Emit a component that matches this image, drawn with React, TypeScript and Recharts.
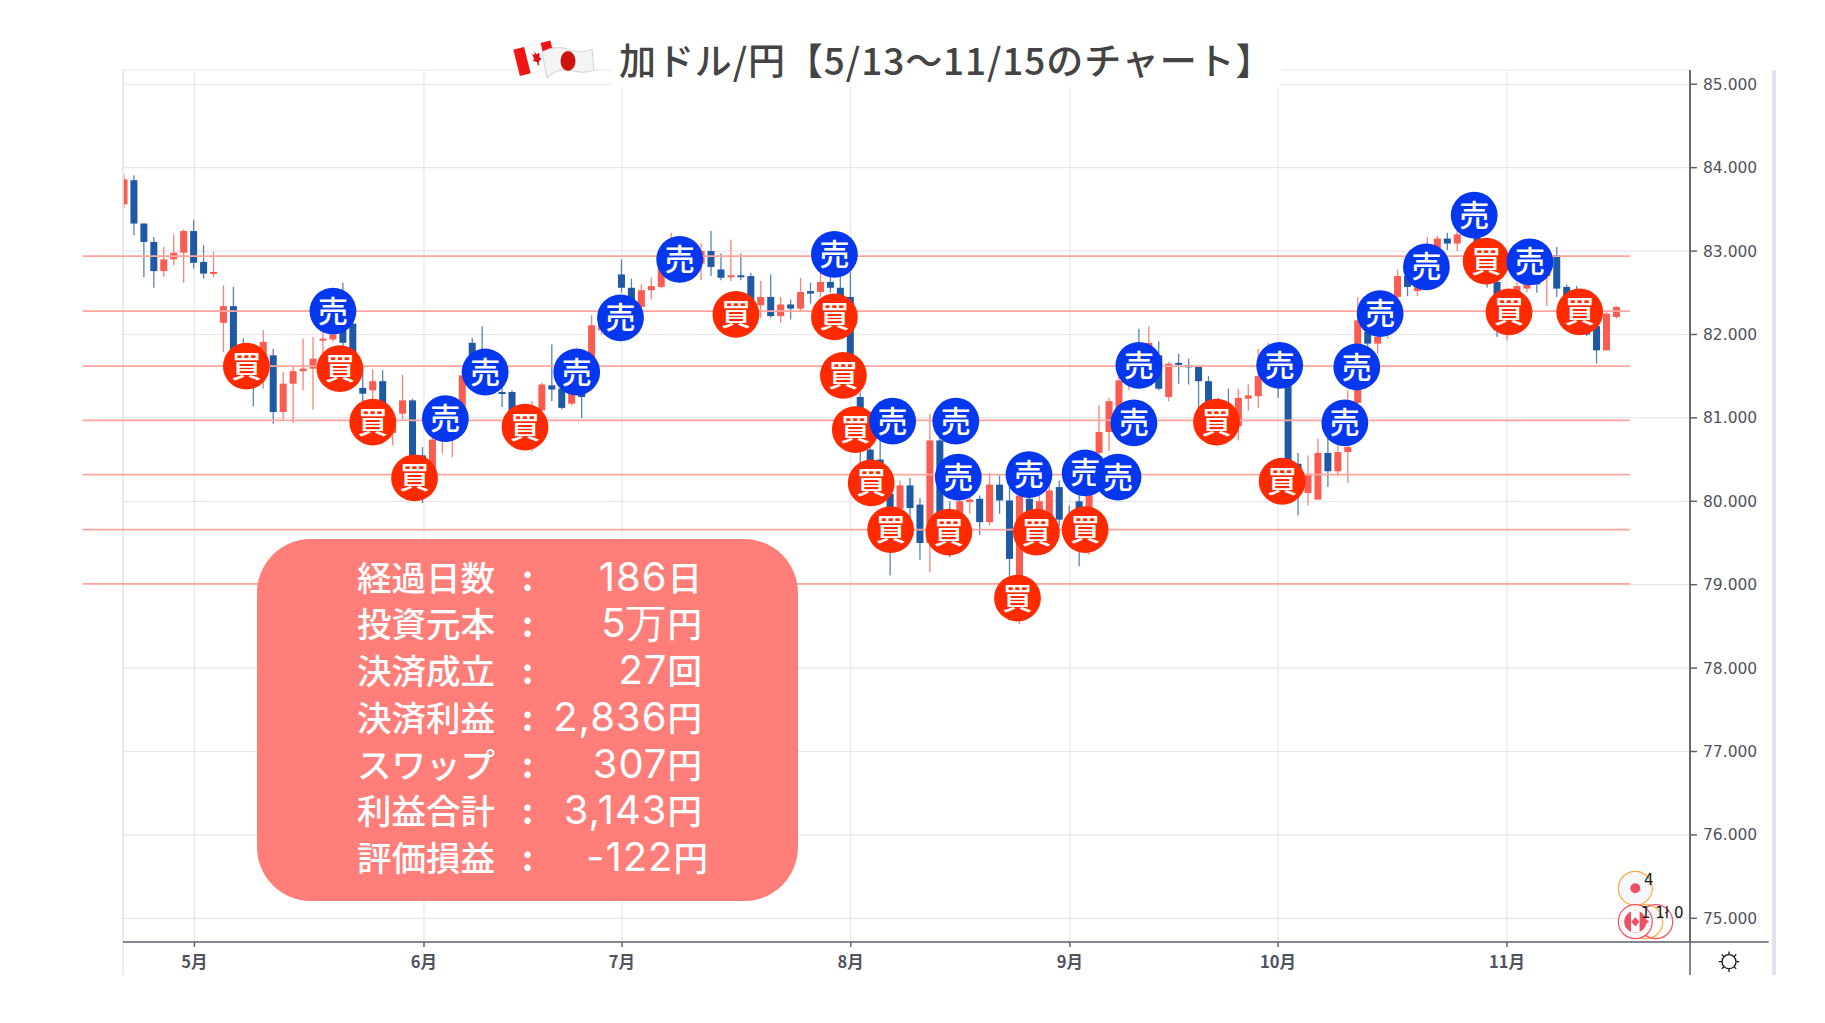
import { Bar, CartesianGrid, ComposedChart, ReferenceLine, Scatter, XAxis, YAxis } from "recharts";

const opens = [
  83.56, 83.85, 83.33, 83.11, 82.76, 82.90, 82.98, 83.24, 82.87, 82.73,
  82.14, 82.34, 81.77, 81.60, 81.61, 81.75, 81.07, 81.41, 81.56, 81.59,
  81.93, 81.94, 82.05, 82.13, 81.36, 81.33, 81.44, 80.82, 81.05, 81.21,
  80.55, 80.34, 80.80, 80.81, 81.13, 81.90, 81.75, 81.45, 81.31, 81.31,
  80.95, 80.85, 81.09, 81.39, 81.35, 81.17, 81.40, 81.65, 82.05, 82.30,
  82.72, 82.56, 82.33, 82.53, 82.57, 82.85, 83.10, 82.95, 82.85, 83.00,
  82.78, 82.69, 82.71, 82.70, 82.35, 82.45, 82.22, 82.36, 82.31, 82.52,
  82.51, 82.63, 82.56, 82.45, 81.25, 80.62, 80.50, 80.09, 79.91, 80.19,
  79.96, 79.50, 80.73, 79.85, 79.80, 79.99, 80.03, 79.75, 80.20, 80.01,
  79.10, 80.03, 79.80, 79.77, 80.17, 79.80, 80.00, 79.75, 80.58, 80.83,
  81.10, 81.50, 81.85, 81.70, 81.75, 81.25, 81.66, 81.63, 81.62, 81.44,
  81.20, 81.10, 80.90, 81.23, 81.26, 81.50, 81.65, 81.70, 80.45, 80.10,
  80.02, 80.58, 80.36, 80.59, 81.18, 82.03, 81.89, 82.00, 82.45, 82.70,
  82.52, 82.60, 82.85, 83.15, 83.09, 83.20, 83.30, 82.95, 82.63, 82.05,
  82.30, 82.55, 82.80, 82.70, 82.95, 82.57, 82.30, 82.20, 82.10, 81.81,
  82.21,
];
const highs = [
  83.92, 83.91, 83.33, 83.17, 83.05, 83.20, 83.26, 83.37, 83.07, 82.99,
  82.59, 82.57, 81.95, 81.70, 82.05, 81.83, 81.55, 81.61, 81.95, 81.97,
  82.03, 82.10, 82.62, 82.20, 81.60, 81.58, 81.57, 81.07, 81.52, 81.23,
  80.65, 80.90, 81.00, 81.10, 81.60, 81.96, 82.10, 81.50, 81.40, 81.33,
  81.05, 81.20, 81.42, 81.88, 81.50, 81.55, 81.65, 82.23, 82.35, 82.45,
  82.90, 82.67, 82.60, 82.68, 82.95, 83.22, 83.15, 83.10, 83.09, 83.24,
  82.97, 83.14, 82.97, 82.74, 82.64, 82.72, 82.45, 82.42, 82.68, 82.62,
  82.75, 82.70, 82.70, 82.75, 81.30, 80.75, 80.73, 80.20, 80.25, 80.28,
  80.04, 81.05, 80.95, 80.00, 80.20, 80.10, 80.07, 80.34, 80.31, 80.17,
  80.10, 80.20, 80.10, 80.20, 80.25, 79.95, 80.10, 80.40, 81.15, 81.24,
  81.50, 81.75, 82.07, 82.10, 81.92, 81.67, 81.77, 81.71, 81.63, 81.50,
  81.24, 81.35, 81.35, 81.40, 81.83, 81.90, 81.80, 81.80, 80.58, 80.55,
  80.75, 80.80, 80.70, 81.33, 82.45, 82.10, 82.00, 82.35, 82.78, 82.75,
  82.65, 83.17, 83.18, 83.22, 83.30, 83.45, 83.35, 83.00, 82.80, 82.35,
  82.63, 82.63, 82.90, 83.05, 83.05, 82.60, 82.58, 82.30, 82.20, 82.27,
  82.34,
];
const lows = [
  83.52, 83.19, 82.69, 82.56, 82.69, 82.83, 82.62, 82.79, 82.67, 82.69,
  81.79, 81.70, 81.45, 81.14, 81.35, 80.93, 80.98, 80.94, 81.33, 81.10,
  81.67, 81.92, 81.85, 81.60, 81.17, 81.20, 81.00, 80.67, 80.98, 80.45,
  79.98, 80.30, 80.57, 80.53, 81.10, 81.60, 81.40, 81.30, 81.13, 80.93,
  80.80, 80.60, 81.00, 81.20, 81.10, 81.15, 81.00, 81.50, 82.00, 82.25,
  82.50, 82.35, 82.30, 82.42, 82.55, 82.80, 82.85, 82.85, 82.65, 82.70,
  82.65, 82.64, 82.65, 82.20, 82.20, 82.20, 82.14, 82.18, 82.27, 82.37,
  82.45, 82.50, 82.35, 81.45, 80.45, 80.40, 80.10, 79.11, 79.60, 79.77,
  79.30, 79.15, 79.60, 79.33, 79.70, 79.85, 79.60, 79.71, 79.85, 79.10,
  78.53, 79.70, 79.65, 79.70, 79.70, 79.60, 79.22, 79.36, 80.30, 80.60,
  81.00, 81.33, 81.55, 81.60, 81.33, 81.20, 81.41, 81.40, 81.12, 81.05,
  80.75, 80.75, 80.73, 81.09, 81.12, 81.40, 81.24, 80.30, 79.83, 79.95,
  80.02, 80.17, 80.30, 80.22, 81.10, 81.80, 81.77, 81.95, 82.40, 82.46,
  82.46, 82.55, 82.80, 83.01, 83.00, 83.17, 82.90, 82.56, 81.97, 81.93,
  82.25, 82.51, 82.50, 82.34, 82.45, 82.10, 82.00, 81.98, 81.65, 81.81,
  82.19,
];
const closes = [
  83.86, 83.33, 83.11, 82.76, 82.90, 82.98, 83.24, 82.86, 82.73, 82.75,
  82.34, 81.75, 81.55, 81.37, 81.91, 81.07, 81.41, 81.56, 81.59, 81.71,
  81.95, 82.00, 81.90, 81.65, 81.29, 81.44, 81.10, 81.00, 81.21, 80.52,
  80.30, 80.74, 80.90, 80.93, 81.51, 81.70, 81.45, 81.35, 81.30, 81.00,
  81.00, 81.13, 81.40, 81.34, 81.12, 81.29, 81.25, 82.11, 82.30, 82.40,
  82.56, 82.40, 82.53, 82.58, 82.83, 83.10, 82.95, 83.00, 83.00, 82.81,
  82.68, 82.71, 82.69, 82.25, 82.45, 82.22, 82.36, 82.31, 82.51, 82.49,
  82.63, 82.56, 82.40, 81.50, 80.70, 80.47, 80.20, 79.60, 80.19, 79.92,
  79.50, 80.73, 79.85, 79.60, 80.00, 80.02, 79.75, 80.20, 80.01, 79.31,
  80.07, 79.80, 80.00, 80.13, 79.78, 79.70, 79.50, 80.35, 80.83, 81.20,
  81.45, 81.70, 81.60, 81.90, 81.35, 81.65, 81.64, 81.61, 81.44, 81.10,
  80.90, 80.90, 81.24, 81.27, 81.50, 81.60, 81.40, 80.45, 80.30, 80.33,
  80.58, 80.36, 80.59, 80.65, 82.17, 81.89, 81.97, 82.30, 82.70, 82.57,
  82.59, 82.85, 83.15, 83.09, 83.20, 83.30, 82.95, 82.65, 82.05, 82.30,
  82.58, 82.60, 82.60, 83.00, 82.55, 82.20, 82.10, 82.00, 81.81, 82.25,
  82.33,
];

const buyDays = [12.3, 21.7, 25.0, 29.2, 40.3, 61.5, 71.4, 72.3, 73.5, 75.1, 77.05, 82.9, 91.7, 89.8, 96.6, 109.8, 116.4, 136.9, 139.2, 146.3];
const buyRates = [81.62, 81.59, 80.95, 80.28, 80.89, 82.24, 82.21, 81.51, 80.86, 80.22, 79.66, 79.63, 79.63, 78.84, 79.66, 80.95, 80.24, 82.88, 82.27, 82.27];
const sellDays = [21.0, 32.3, 36.3, 45.5, 49.9, 55.85, 71.4, 77.25, 83.6, 83.85, 90.95, 96.6, 99.9, 101.5, 102.0, 116.15, 122.7, 123.9, 126.25, 130.9, 135.7, 141.3];
const sellRates = [82.28, 80.99, 81.55, 81.55, 82.2, 82.9, 82.96, 80.96, 80.96, 80.29, 80.32, 80.34, 80.29, 80.94, 81.63, 81.63, 80.94, 81.61, 82.25, 82.81, 83.43, 82.87];

const levels = [79.01, 79.66, 80.32, 80.97, 81.62, 82.28, 82.94];
const rateTicks = [75, 76, 77, 78, 79, 80, 81, 82, 83, 84, 85];
const monthTicks = [7.08, 30.15, 50.05, 73.04, 95.07, 115.98, 138.99];
const monthLabels = ["5月", "6月", "7月", "8月", "9月", "10月", "11月"];

const statLabels = ["経過日数", "投資元本", "決済成立", "決済利益", "スワップ", "利益合計", "評価損益"];
const statValues = ["186日", "5万円", "27回", "2,836円", "307円", "3,143円", "-122円"];

const candles = opens.map((open, i) => ({
  x: i,
  open,
  high: highs[i],
  low: lows[i],
  close: closes[i],
  range: [lows[i], highs[i]],
}));
const buys = buyDays.map((x, i) => ({ x, y: buyRates[i] }));
const sells = sellDays.map((x, i) => ({ x, y: sellRates[i] }));

const UP = "#fb5c52";
const DOWN = "#1f58a5";
const AXIS = "#5f626d";
const GRID = "#e6e6ee";
const LEVEL = "#ffa59c";
const BODY_W = 7;
const PLOT_LEFT = 123;
const JP = '"Noto Sans CJK JP", sans-serif';

// scale is taken from the height recharts gave the [low, high] bar
const Candle = (props: any) => {
  const { x, y, width, height, payload } = props;
  const { open, high, low, close } = payload;
  const perUnit = height / (high - low);
  const mid = x + width / 2;
  const top = y + (high - Math.max(open, close)) * perUnit;
  const bodyH = Math.max(Math.abs(open - close) * perUnit, 2);
  const up = close >= open;
  // the first candle is cut by the left edge of the plot
  const left = Math.max(mid - BODY_W / 2, PLOT_LEFT);
  return (
    <g>
      <line x1={mid} x2={mid} y1={y} y2={y + height} stroke={up ? "#f9827a" : "#5a82b8"} strokeWidth={1.3} />
      <rect x={left} y={top} width={mid + BODY_W / 2 - left} height={bodyH} fill={up ? UP : DOWN} />
    </g>
  );
};

const Badge = ({ cx, cy, fill, text }: any) => (
  <g>
    <circle cx={cx} cy={cy} r={23.4} fill={fill} />
    <text x={cx} y={cy + 10.5} textAnchor="middle" fill="#fff" fontSize={30} fontWeight={500} fontFamily={JP}>{text}</text>
  </g>
);

const Flags = () => (
  <svg width={84} height={42} style={{ position: "absolute", left: 512, top: 40 }}>
    <g transform="rotate(-14 22 18)">
      <rect x={4} y={5} width={38} height={27} fill="#fff" stroke="#ddd" strokeWidth={0.5} />
      <rect x={4} y={5} width={11} height={27} fill="#f01414" />
      <rect x={32} y={5} width={10} height={27} fill="#f01414" />
      <path d="M23.5 11 l2 4 3-1 -1 5 2 1 -4 3 v3 h-1.5 v-3 l-4-3 2-1 -1-5 3 1z" fill="#e01010" />
    </g>
    <path d="M30 12 Q44 4 58 10 Q70 14 80 9 L82 30 Q72 34 62 31 Q46 26 35 38z" fill="#f4f4f4" stroke="#c9c9c9" strokeWidth={0.8} />
    <ellipse cx={56} cy={21} rx={7.5} ry={10} fill="#cf1410" />
  </svg>
);

const Marks = () => (
  <svg width={1825} height={1023} style={{ position: "absolute", left: 0, top: 0, pointerEvents: "none" }}>
    <rect x={1772} y={70} width={4} height={905} fill="#dfe3ee" />
    <circle cx={1635.3} cy={888.3} r={17} fill="#f6f7f9" stroke="#ffa93f" strokeWidth={1.2} />
    <circle cx={1635.3} cy={888.3} r={5} fill="#ef4f66" />
    <text x={1644} y={885} fontSize={15} fontFamily="DejaVu Sans" fill="#131722">4</text>
    <circle cx={1645.7} cy={921.7} r={17} fill="none" stroke="#ffa93f" strokeWidth={1.2} />
    <circle cx={1655.7} cy={921.7} r={17} fill="none" stroke="#f7525f" strokeWidth={1.2} />
    <circle cx={1635.3} cy={921.7} r={17} fill="#f6f7f9" stroke="#f7525f" strokeWidth={1.2} />
    <circle cx={1635.3} cy={921.7} r={11} fill="#ef4f66" />
    <rect x={1631} y={911} width={8.6} height={21.4} fill="#fff" />
    <path d="M1635.3 917 l4 4.7 -4 4.7 -4-4.7z" fill="#ef4f66" />
    <path d="M1642 916 l7 5.5 -7 5.5z" fill="#ef4f66" />
    <text x={1641} y={918} fontSize={15} fontFamily="DejaVu Sans" fill="#131722" xmlSpace="preserve">1 1ł 0</text>
    <g stroke="#131722" strokeWidth={1.3} fill="none">
      <circle cx={1729} cy={961.7} r={7} />
      <path d="M1729 951.5v3M1729 969v3M1718.8 961.7h3M1736.2 961.7h3M1721.8 954.5l2.1 2.1M1734.1 966.8l2.1 2.1M1736.2 954.5l-2.1 2.1M1723.9 966.8l-2.1 2.1" />
    </g>
  </svg>
);

const StatPanel = () => (
  <div style={{ position: "absolute", left: 257, top: 538.5, width: 541, height: 362.5, background: "#ff7e7a", borderRadius: 54, color: "#fff", fontFamily: JP, fontSize: 34.5, fontWeight: 500 }}>
    {statLabels.map((label, i) => {
      const value = statValues[i];
      return (
        <div key={label} style={{ position: "absolute", left: 0, right: 0, top: 14 + i * 46.75, height: 46.75, lineHeight: "46.75px" }}>
          <span style={{ position: "absolute", left: 100, whiteSpace: "nowrap" }}>{label}</span>
          <span style={{ position: "absolute", left: 265, fontWeight: 700 }}>:</span>
          <span style={{ position: "absolute", right: value.startsWith("-") ? 90 : 96, whiteSpace: "nowrap" }}>
            <span style={{ fontFamily: "Inter", fontSize: 40, letterSpacing: 1, fontWeight: 400 }}>{value.slice(0, -1)}</span>
            {value.slice(-1)}
          </span>
        </div>
      );
    })}
  </div>
);

export default function App() {
  return (
    <div style={{ position: "absolute", left: 0, top: 0, width: 1825, height: 1023, background: "#fff", overflow: "hidden" }}>
      <ComposedChart width={1825} height={1023} data={candles} margin={{ top: 70, right: 0, bottom: 0, left: 123 }}>
        <CartesianGrid stroke={GRID} strokeWidth={1.2} />
        <XAxis
          type="number"
          dataKey="x"
          domain={[-0.1, 157.39]}
          ticks={monthTicks}
          interval={0}
          height={81}
          tickFormatter={(_: number, i: number) => monthLabels[i]}
          stroke={AXIS}
          strokeWidth={1.5}
          tickSize={5}
          tickMargin={9}
          tick={{ fontSize: 16.5, fontWeight: 700, fill: "#50535e", fontFamily: JP }}
        />
        <YAxis
          orientation="right"
          width={135}
          domain={[74.716, 85.171]}
          ticks={rateTicks}
          interval={0}
          tickFormatter={(v: number) => v.toFixed(3)}
          stroke={AXIS}
          strokeWidth={1.5}
          tickSize={7}
          tickMargin={6}
          tick={{ fontSize: 15.5, fill: "#50535e", fontFamily: "DejaVu Sans" }}
        />
        {/* rules that run past the plot area on the left, right and bottom */}
        <ReferenceLine segment={[{ x: -0.1, y: 85.171 }, { x: -0.1, y: 74.32 }]} stroke={GRID} strokeWidth={1.5} ifOverflow="visible" />
        <ReferenceLine segment={[{ x: 157.39, y: 85.171 }, { x: 157.39, y: 74.32 }]} stroke={AXIS} strokeWidth={1.5} ifOverflow="visible" />
        <ReferenceLine segment={[{ x: 157.39, y: 74.716 }, { x: 165.3, y: 74.716 }]} stroke={AXIS} strokeWidth={1.5} ifOverflow="visible" />
        {levels.map((level) => (
          <ReferenceLine key={level} segment={[{ x: -4.15, y: level }, { x: 151.35, y: level }]} stroke={LEVEL} strokeWidth={1.6} ifOverflow="visible" />
        ))}
        <Bar dataKey="range" barSize={7} isAnimationActive={false} shape={(p: any) => <Candle {...p} />} />
        <Scatter data={buys} dataKey="y" isAnimationActive={false} shape={(p: any) => <Badge cx={p.cx} cy={p.cy} fill="#ff2a00" text="買" />} />
        <Scatter data={sells} dataKey="y" isAnimationActive={false} shape={(p: any) => <Badge cx={p.cx} cy={p.cy} fill="#0437ee" text="売" />} />
      </ComposedChart>
      <div style={{ position: "absolute", left: 611, top: 28, width: 670, height: 59, background: "#fff" }} />
      <div style={{ position: "absolute", left: 619, top: 35, height: 48, lineHeight: "48px", fontSize: 37, letterSpacing: 0.9, fontWeight: 500, color: "#444", fontFamily: JP, whiteSpace: "nowrap" }}>
        加ドル/円【5/13〜11/15のチャート】
      </div>
      <Flags />
      <StatPanel />
      <Marks />
    </div>
  );
}
